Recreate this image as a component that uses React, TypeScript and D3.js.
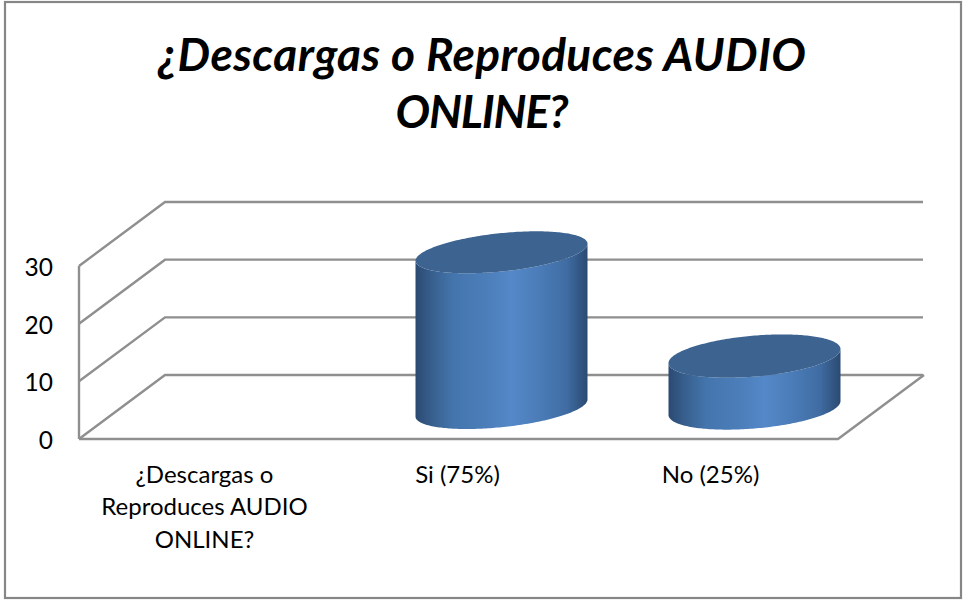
import React from "react";
import * as d3 from "d3";

const categories = ["¿Descargas o Reproduces AUDIO ONLINE?", "Si (75%)", "No (25%)"];
const categoryLines = [["¿Descargas o", "Reproduces AUDIO", "ONLINE?"], ["Si (75%)"], ["No (25%)"]];
const values = [0, 27, 9];
const yTicks = [0, 10, 20, 30];
const titleLines = ["¿Descargas o Reproduces AUDIO", "ONLINE?"];
const titleWidths = [648, 173];

const FONT = "Lato, Carlito, 'Open Sans', sans-serif";
const GRID = "#8f8f8f";

const x = d3.scaleBand<string>().domain(categories).range([79, 838]);
const y = d3.scaleLinear().domain([0, 30]).range([439, 266]);
const depthX = 86;
const depthY = -64;

function cylinder(cx: number, cy: number, h: number, a: number, s: number, b: number) {
  const line = d3.line<[number, number]>().curve(d3.curveLinear);
  const pt = (t: number, dy: number): [number, number] => [
    cx + a * Math.cos(t),
    cy + dy - s * Math.cos(t) + b * Math.sin(t),
  ];
  const steps = d3.range(0, 121).map((i) => (i / 120) * Math.PI);
  const bottom = steps.map((t) => pt(t, h)); // right to left, through the near side
  const topNear = steps.map((t) => pt(Math.PI - t, 0)); // left to right
  const full = d3.range(0, 241).map((i) => pt((i / 240) * 2 * Math.PI, 0));
  return { body: line([...bottom, ...topNear])! + "Z", top: line(full)! + "Z" };
}

export default function App() {
  const back = (v: number) => y(v) + depthY;
  return (
    <svg
      width={965}
      height={602}
      style={{ position: "absolute", left: 0, top: 0, background: "#fff" }}
      fontFamily={FONT}
    >
      <defs>
        <linearGradient id="cyl" x1="0" x2="1" y1="0" y2="0">
          <stop offset="0" stopColor="#2b4a72" />
          <stop offset="0.1" stopColor="#38608f" />
          <stop offset="0.22" stopColor="#4475ad" />
          <stop offset="0.42" stopColor="#4c7eba" />
          <stop offset="0.56" stopColor="#5488c8" />
          <stop offset="0.72" stopColor="#4b7cb8" />
          <stop offset="0.88" stopColor="#3f6ca2" />
          <stop offset="1" stopColor="#2b4a72" />
        </linearGradient>
      </defs>
      <rect x={5} y={2} width={956} height={596} fill="#fff" stroke="#868686" strokeWidth={2.2} />

      {titleLines.map((t, i) => (
        <text
          key={t}
          x={482}
          y={71 + i * 57}
          textAnchor="middle"
          fontSize={46}
          fontWeight={700}
          fontStyle="italic"
          fill="#000"
          textLength={titleWidths[i]}
          lengthAdjust="spacing"
        >
          {t}
        </text>
      ))}

      <g fill="none" stroke={GRID} strokeWidth={2.4}>
        {yTicks.map((v) => (
          <polyline
            key={v}
            points={`${79},${y(v)} ${79 + depthX},${back(v)} ${923},${back(v)}`}
          />
        ))}
        <line x1={79} x2={79} y1={y(0)} y2={y(30)} />
        <polyline
          points={`${79},${y(0)} ${838},${y(0)} ${838 + depthX},${back(0)}`}
        />
      </g>

      {yTicks.map((v) => (
        <text key={v} x={53} y={y(v) + 10} fontSize={24.5} textAnchor="end" fill="#000">
          {v}
        </text>
      ))}

      {categories.map((c, i) => {
        if (values[i] <= 0) return null;
        const h = y(0) - y(values[i]);
        const cx = x(c)! + x.bandwidth() / 2 + depthX / 2;
        const { body, top } = cylinder(cx, 408 - h, h, 86, i === 1 ? 8.5 : 7, i === 1 ? 19.2 : 20.5);
        return (
          <g key={c}>
            <path d={body} fill="url(#cyl)" />
            <path d={top} fill="#3d6491" />
          </g>
        );
      })}

      {categories.map((c, i) => (
        <text key={c} textAnchor="middle" fontSize={24} fill="#000">
          {categoryLines[i].map((l, j) => (
            <tspan key={l} x={x(c)! + x.bandwidth() / 2 - 1} y={482.5 + j * 32.5}>
              {l}
            </tspan>
          ))}
        </text>
      ))}
    </svg>
  );
}
